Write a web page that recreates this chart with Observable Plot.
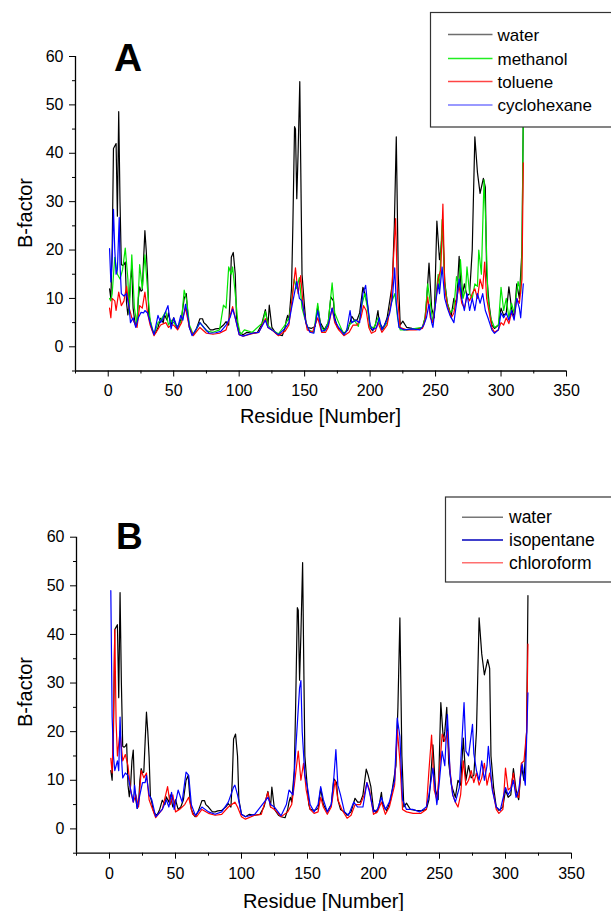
<!DOCTYPE html>
<html><head><meta charset="utf-8">
<script src="https://cdn.jsdelivr.net/npm/d3@7"></script>
<script src="https://cdn.jsdelivr.net/npm/@observablehq/plot@0.6"></script>
<style>
body{margin:0;background:#fff;}
#wrap{position:relative;width:611px;height:911px;overflow:hidden;font-family:"Liberation Sans",Arial,sans-serif;}
#wrap svg{position:absolute;left:0;}
</style></head><body><div id="wrap"></div>
<script>
// ---- tick values ----
const xMajor = [0, 50, 100, 150, 200, 250, 300, 350];
const xMinor = [-25, 25, 75, 125, 175, 225, 275, 325];
const yMajor = [0, 10, 20, 30, 40, 50, 60];
const yMinor = [-5, 5, 15, 25, 35, 45, 55];

// ---- series: [residue, B-factor] ----
const water = [[1,12],[2,10],[3,20],[4,41],[5,41.5],[6,42],[7,27],[8,48.6],[9,30],[10,17],[11,16.8],[12,17],[13,17.5],[14,9],[15,6.6],[16,9],[17,14],[18,16.2],[19,8],[20,5.9],[21,4.2],[22,5],[23,10],[24,12.4],[25,11.5],[26,11.7],[27,18],[28,24],[29,20],[30,14.8],[31,6.6],[32,5.5],[33,4],[34,3.2],[36,2.8],[38,4],[40,5.9],[42,5],[43,6.6],[45,5.5],[46,7],[48,4.5],[50,6],[52,4],[54,4.5],[56,6],[58,10],[59.6,11],[61,6],[62,4],[64,2.8],[65,2.5],[67,3.5],[69,5],[70,5.8],[72,5.8],[73,5],[75,4.5],[77,3.8],[78,3.5],[80,3.5],[82,3.7],[85,3.8],[88,4.5],[90,5.2],[92,4.5],[93,10],[94,18.5],[95.5,19.5],[97,15],[98,6],[100,3],[103,2.5],[106,3],[110,2.8],[114,3],[117,4.5],[118,5.5],[120,7.7],[122,4.5],[123,8.6],[125,4],[128,2.8],[130,2.5],[133,2.3],[135,4],[136,5.5],[137,6.5],[138,5.5],[140,12],[141,25],[142.3,45.5],[143,45],[144,30.6],[145,40],[146.3,54.8],[147,38],[148,15],[150,8],[151,5],[152,4],[155,3.8],[158,4.2],[160,8.3],[162,5],[165,3.5],[168,5],[170,10.3],[172,9.5],[173,6],[175,4],[178,3.5],[180,2.8],[183,3.5],[186,6.3],[188,5.5],[190,5.5],[192,7],[194.5,12.3],[196,11],[198,8.7],[200,4],[202,3.3],[204,4.5],[206,7.5],[207,5],[210,3.7],[213,6],[215,9.5],[217,13],[218.5,25],[220,43.4],[221.5,15],[223,4.5],[225,5.3],[228,4],[232,3.8],[236,3.7],[240,4],[242,6],[243,9],[245,17.3],[247,8],[249,6],[251,26],[253,18],[254,20],[255.5,25],[257,13.5],[259,9],[262,6.5],[264,10],[266,9],[268,18.7],[270,10],[272,13],[274,10.5],[276,11],[278,20],[280,43.4],[282,36],[284,31.7],[286.5,34.8],[288,33],[289,15],[291,8.5],[293,4.5],[295,3.8],[298,4.5],[300,8],[302,6.5],[304,7],[306,12.4],[308,8],[310,6],[312,13],[314,10],[316,20],[317,48]];

const methanol = [[1,10],[2,9.5],[3,11],[5,18.5],[7,15],[9,14],[11,16],[13,20.4],[15,14],[16,7],[18,19],[20,8],[22,4.5],[24,17],[26,12],[28,19],[30,12],[32,5.5],[35,2.5],[38,5],[40,5.5],[44,7.3],[46,4.5],[48,5.5],[50,5],[53,4],[56,5.5],[58,11.7],[60,9.5],[62,4.5],[65,2.5],[70,5],[75,3.3],[80,3],[85,3.5],[88,8.6],[90,8],[92,16.5],[94,15],[95,16.5],[97,11],[99,5],[101,2.5],[104,3.5],[110,3],[118,5],[120,7.3],[122,4.5],[125,3.5],[130,2.7],[135,4.5],[138,6],[140,9],[142,14],[144,12],[146,14.3],[148,8],[150,6],[153,3.5],[157,3],[160,9],[162,4.5],[165,3.2],[168,5],[171,13.2],[173,7],[176,5],[180,2.5],[184,4.5],[188,5.5],[191,4.2],[194,9],[196,11],[198,8],[200,4],[203,4],[206,6],[209,3.5],[213,5],[216,9],[219,11],[221,6],[223,3.5],[228,3.5],[235,3.8],[240,4],[242,6],[244,13],[246,9],[248,5],[250,10],[252,15],[253,12],[255,26.3],[257,13],[259,9],[261,7],[264,8],[266,14.5],[268,12],[269,18],[271,10],[273,12],[274,16.5],[276,11],[278,10],[280,13],[282,12.5],[283,20],[285,15],[287,34.5],[288,28],[290,10],[292,6],[295,4],[298,4.5],[300,12.3],[302,7.5],[304,10],[306,6],[308,9],[310,7],[313,13.5],[315,11],[316,20],[317,48]];

const toluene = [[1,8],[2,6],[3,10],[5,9.5],[6,7.5],[8,11.3],[10,8.5],[12,9.5],[14,12.5],[16,8],[18,6],[20,5],[22,4],[24,8.5],[26,8],[28,11.3],[30,7],[32,4.5],[35,2.3],[40,4.5],[44,5],[46,4],[48,4.5],[50,4.5],[53,3.5],[56,5],[59,8],[62,4],[65,2.3],[70,4],[75,2.8],[80,2.6],[85,2.8],[90,3.5],[95,8.3],[97,6],[100,2.5],[103,2.2],[110,2.7],[115,3],[120,5.8],[122,4],[125,3.5],[130,2.3],[135,3.2],[138,4.5],[140,9],[143,16.3],[145,11],[147,14.7],[149,8],[152,3.5],[156,3],[160,6],[163,3],[166,3],[168,4],[171,8],[173,5],[176,3.5],[180,2.3],[184,3],[187,4.5],[190,4.5],[193,6],[195,8.5],[197,7.5],[199,4],[201,2.8],[204,3.2],[206,5],[209,3],[213,4.5],[216,9],[219.5,26.5],[221,10],[223,4],[228,3.5],[235,3.5],[240,3.8],[242,5.5],[244,10.3],[246,6],[248,5],[250,9],[252,14],[254,16],[255.6,29.5],[257,12],[259,8.5],[262,6],[264,7],[266,10],[268,12.5],[270,9],[272,8],[274,10.5],[276,9.5],[278,11],[280,12],[282,10],[284,14],[286,12],[287.5,17.5],[289,10],[291,7],[293,4],[295,3],[298,3.5],[300,5],[302,4.5],[304,6],[306,4.8],[308,7],[310,6],[312,10],[314,9],[316,14],[317,38]];

const cyclohexane = [[1,20.3],[2,13.4],[3,18],[4,28.4],[5,20],[6,15],[7,16],[8.4,26.7],[9,17],[10,11],[12,10.5],[14,11],[16,8],[17,5],[19,6],[21,4],[23,6],[25,7.1],[27,7],[28,7.5],[30,7],[32,5],[35,2.5],[38,6.5],[40,5],[42,6],[45.6,8.5],[48,3.7],[50,6],[53,3.8],[55.4,6.5],[57,5.5],[59,8.8],[61,6],[62,4],[64,2.3],[68,4],[70,5],[73,4],[77,2.8],[82,2.9],[86,3.2],[90,4.5],[93,6],[95,7.8],[97,6],[100,2.5],[103,2.2],[110,2.8],[115,3],[118,4.5],[120,5.5],[122,4],[125,3.5],[130,2.5],[135,3.8],[138,5],[140,8],[144,13.5],[146,10],[148,9.5],[151,5],[154,3],[157,2.8],[160,7.5],[163,3.2],[166,3.5],[168,4.5],[171,8],[173,5.5],[176,4],[180,2.5],[182,3.2],[184.7,7.5],[186,5],[189,5.5],[192,5],[194.5,11],[196.6,12.7],[198,9],[200,4.5],[202,3.5],[205,4],[207,6],[209,3.5],[212,5],[215,7],[217,10],[218.8,16.3],[220,9],[222,4],[226,3.5],[232,3.7],[238,3.5],[241,4.5],[243,6],[245,8.8],[247,5],[248,4],[250,9],[252,13],[253,11],[255,16.5],[257,10],[259,8],[261,6.5],[264,5],[266,9],[268,14],[270,10],[272,7.5],[274,11],[276,7.5],[278,10],[280,7.5],[282,11],[284,9],[286,11],[288,7.5],[290,6],[293,3.5],[295,2.8],[298,3.5],[300,7],[302,6],[304,7],[306,5.5],[308,7.5],[310,5.5],[312,10],[314,8],[315,6],[317,13]];

const isopentane = [[1,49],[2,23],[3,15],[4,12],[6,14],[7,12],[8,23],[9,15],[10,10.5],[12,11.5],[14,11],[16,8],[18,5.5],[19,9],[21,4.2],[23,7],[25,9.5],[27,9.5],[28,11],[30,7],[32,6],[35,2.5],[40,4],[43,6],[45,4.5],[47,7.5],[49,4],[52,8],[55,5.5],[58,11.7],[60,11],[62,5],[65,2.8],[70,4.5],[75,3.5],[80,3],[85,3.5],[90,5.5],[94,8.6],[95,9],[97,7],[100,3],[103,2.5],[110,3],[120,6.5],[122,5],[125,4.5],[130,2.7],[134,5],[136,8],[139,7],[141,16],[144,29],[145,30.5],[146,20],[148,11],[150,8.5],[152,5],[155,3.5],[158,5],[160,8.7],[162,6],[165,3.5],[168,5],[170,10.7],[171.5,16.3],[173,9],[175,7],[178,3.5],[181,2.8],[185,5.5],[188,4.5],[192,4.5],[195,9.5],[197,7.5],[200,3.5],[203,4],[206,6.5],[209,4],[212,5.5],[216,10],[218,22.8],[220,19],[222,6],[225,4],[230,4],[235,3.5],[240,4.5],[242,7],[245,12.5],[248,5],[250,10],[252,16],[254,13],[256,23.5],[258,11.5],[260,7],[262,5.5],[265,8.5],[268.6,26],[270,16],[272,15],[275,21.5],[276,15.5],[278,12],[280,10],[282,14],[284,10],[286,13],[287,17],[290,8],[293,4.5],[296,3.8],[300,8.5],[302,7],[304,8],[306,10],[308,6.5],[310,8],[312.6,13.4],[315,9],[317,28]];

const chloroform = [[1,14.5],[2,11.5],[3,23],[4,41],[5,22],[6,15],[8,20],[10,14],[12,15.3],[14,13],[16,8],[18,5.5],[20,7],[22,4.5],[24,12],[26,10.5],[28,11.5],[30,6],[32,4.5],[35,2.3],[40,4],[44,8.7],[46,5],[48,7],[50,3.5],[53,4],[57,5],[60,6.5],[63,3],[66,2.5],[70,4],[75,3.2],[80,2.8],[85,3],[90,4.5],[95,5.5],[97,4.5],[100,2.5],[103,2],[110,2.8],[115,3],[120,7.5],[122,4.5],[125,4],[130,2.5],[135,3.5],[138,5],[140,9],[143,16],[145,10],[147,13.5],[149,8],[152,4],[155,3.2],[158,3.5],[160,6.5],[162,4.5],[165,3],[168,4.5],[171,10],[173,6],[176,4],[180,2.2],[183,2.8],[186,5],[190,5],[193,7],[195,9.5],[197,8],[200,3],[203,3.5],[206,5.5],[209,3],[212,4.5],[216,9],[218,20.5],[220,14],[222,4],[225,3.5],[230,3.2],[236,3.2],[240,4],[242,12],[244,19.3],[246,8],[248,6],[250,12],[252,19.5],[254,18],[256,20],[258,12],[260,7],[262,5.5],[264,4.5],[266,7],[268,14],[270,9],[272,10],[274,12],[276,9.5],[278,11.5],[280,9],[282,10.5],[284,13.5],[286,9],[288,11.5],[290,8.5],[293,4],[295,3.2],[298,4],[300,12.5],[302,8],[304,8.5],[306,11.5],[308,7],[310,6.5],[312,13.5],[314,14],[316,20],[317,38]];

const labelsA = ["water", "methanol", "toluene", "cyclohexane"];
const labelsB = ["water", "isopentane", "chloroform"];

// ---- build ----
const FONT = "'Liberation Sans', Arial, Helvetica, sans-serif";
const wrap = document.getElementById("wrap");

function panel(series, opts) {
  return Plot.plot({
    width: 611, height: opts.height,
    marginTop: opts.mt, marginBottom: opts.mb, marginLeft: opts.ml, marginRight: opts.mr,
    x: {domain: [-25, 350]}, y: {domain: [-5, 60]},
    style: {fontFamily: FONT, fontSize: "16px", color: "#000", background: "transparent", overflow: "visible"},
    marks: [
      ...series.map(s => Plot.line(s.data, {x: d => d[0], y: d => d[1], stroke: s.color, strokeWidth: 1.2})),
      Plot.ruleX([-25], {stroke: "#000", strokeWidth: 1.3}),
      Plot.ruleY([-5], {stroke: "#000", strokeWidth: 1.3}),
      Plot.axisX(xMajor, {tickSize: 6, tickPadding: 8, label: null, fontSize: 16}),
      Plot.axisX(xMinor, {tickSize: 3, tickFormat: () => "", label: null}),
      Plot.axisY(yMajor, {tickSize: 6, tickPadding: 6, label: null, fontSize: 16}),
      Plot.axisY(yMinor, {tickSize: 3, tickFormat: () => "", label: null})
    ]
  });
}

const svgA = panel([
  {data: water, color: "#000000"},
  {data: methanol, color: "#00e600"},
  {data: toluene, color: "#ff0000"},
  {data: cyclohexane, color: "#0000ff"}
], {height: 450, mt: 56, mb: 79.5, ml: 75, mr: 45});
svgA.style.top = "0px";
wrap.appendChild(svgA);

const svgB = panel([
  {data: water, color: "#000000"},
  {data: chloroform, color: "#ff0000"},
  {data: isopentane, color: "#0000ff"}
], {height: 431, mt: 56.7, mb: 58.3, ml: 76, mr: 40});
svgB.style.top = "480px";
wrap.appendChild(svgB);

// ---- overlay: panel letters, axis titles, legends ----
const ov = d3.select(wrap).append("svg")
  .attr("width", 611).attr("height", 911)
  .style("top", "0px").style("pointer-events", "none")
  .style("font-family", FONT);

ov.append("text").attr("x", 114).attr("y", 70.7).attr("font-size", 39).attr("font-weight", "bold").text("A");
ov.append("text").attr("x", 116).attr("y", 548.5).attr("font-size", 37).attr("font-weight", "bold").text("B");

[[320.5, 422.5], [323.5, 907.5]].forEach(([x, y]) =>
  ov.append("text").attr("x", x).attr("y", y).attr("text-anchor", "middle").attr("font-size", 20).text("Residue [Number]"));
[[31.5, 213], [31.5, 692]].forEach(([x, y]) =>
  ov.append("text").attr("transform", `translate(${x},${y}) rotate(-90)`).attr("text-anchor", "middle").attr("font-size", 20).text("B-factor"));

function legend(box, rows, labels, colors, fontSize) {
  ov.append("rect").attr("x", box[0]).attr("y", box[1]).attr("width", box[2]).attr("height", box[3])
    .attr("fill", "#fff").attr("stroke", "#333").attr("stroke-width", 1.2);
  labels.forEach((lab, i) => {
    ov.append("line").attr("x1", rows.x1).attr("x2", rows.x2).attr("y1", rows.y[i]).attr("y2", rows.y[i])
      .attr("stroke", colors[i]).attr("stroke-width", 1.5);
    ov.append("text").attr("x", rows.tx).attr("y", rows.y[i] + 6).attr("font-size", fontSize).text(lab);
  });
}
legend([430.5, 12.5, 190, 114.5], {x1: 448, x2: 492.5, tx: 497.5, y: [34.5, 58.5, 81.5, 105]},
  labelsA, ["#6e6e6e", "#22ee22", "#ff4444", "#7777ff"], 17);
legend([445.5, 497, 175, 85], {x1: 462, x2: 503, tx: 509, y: [517.3, 540, 562.7]},
  labelsB, ["#777777", "#0000bb", "#ff7070"], 17.5);
</script></body></html>
